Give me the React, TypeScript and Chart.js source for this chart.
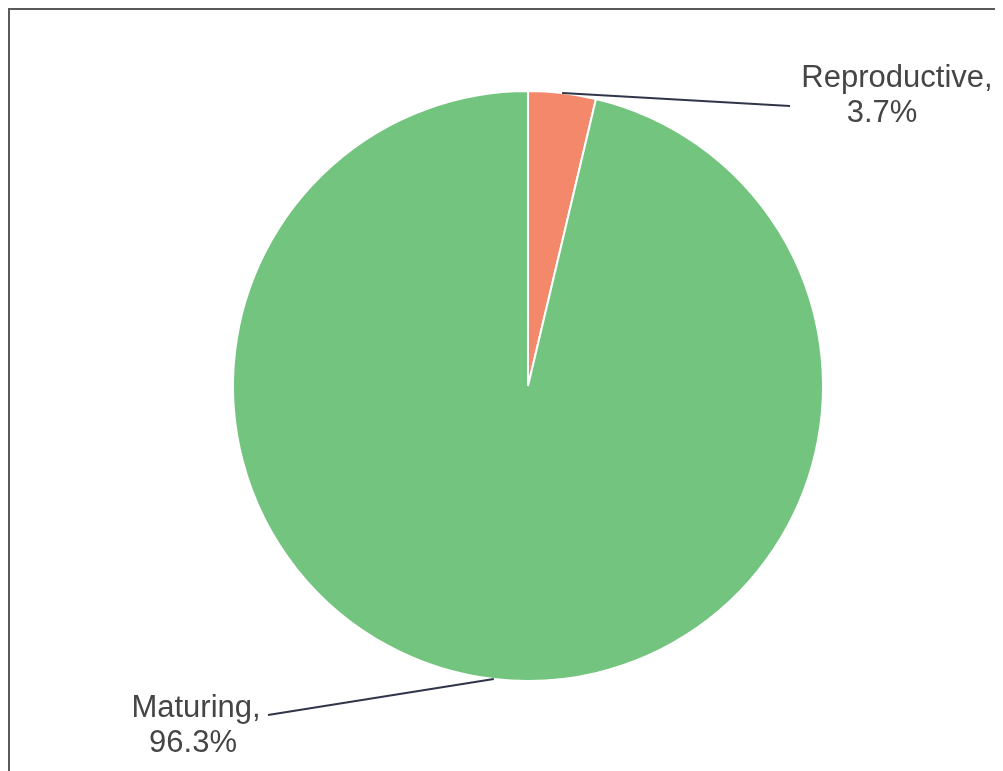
import React, { useEffect, useRef } from "react";
import { Chart, registerables } from "chart.js";

Chart.register(...registerables);

const categories = ["Reproductive", "Maturing"];
const values = [3.7, 96.3];
const valueLabels = ["3.7%", "96.3%"];
const colors = ["#F4886A", "#73C47F"];

// label anchor offsets relative to pie centre (style only)
const labelStyle = [
  { lineEnd: [262, -280], textX: [369, 354], baselines: [-299, -264] },
  { lineEnd: [-260, 329], textX: [-332, -335], baselines: [331, 366] },
];

const labelPlugin = {
  id: "pieLabels",
  afterDatasetsDraw(chart: any) {
    const ctx = chart.ctx;
    const meta = chart.getDatasetMeta(0);
    meta.data.forEach((arc: any, i: number) => {
      const { x, y, startAngle, endAngle, outerRadius } = arc.getProps(
        ["x", "y", "startAngle", "endAngle", "outerRadius"],
        true
      );
      const mid = (startAngle + endAngle) / 2;
      const sx = x + Math.cos(mid) * outerRadius;
      const sy = y + Math.sin(mid) * outerRadius;
      const st = labelStyle[i];
      ctx.save();
      ctx.strokeStyle = "#30364a";
      ctx.lineWidth = 2.2;
      ctx.beginPath();
      ctx.moveTo(sx, sy);
      ctx.lineTo(x + st.lineEnd[0], y + st.lineEnd[1]);
      ctx.stroke();
      ctx.fillStyle = "#454545";
      ctx.font = '31px "Liberation Sans", Arial, sans-serif';
      ctx.textAlign = "center";
      ctx.textBaseline = "alphabetic";
      ctx.fillText(categories[i] + ",", x + st.textX[0], y + st.baselines[0]);
      ctx.fillText(valueLabels[i], x + st.textX[1], y + st.baselines[1]);
      ctx.restore();
    });
  },
};

export default function App() {
  const ref = useRef<HTMLCanvasElement>(null);
  useEffect(() => {
    document.body.style.margin = "8px";
    document.body.style.overflow = "hidden";
    document.documentElement.style.overflow = "hidden";
    const chart = new Chart(ref.current!, {
      type: "pie",
      data: {
        labels: categories,
        datasets: [
          {
            data: values,
            backgroundColor: colors,
            borderColor: "#ffffff",
            borderWidth: 2,
          },
        ],
      },
      options: {
        animation: false,
        responsive: false,
        layout: { padding: { top: 80, bottom: 89, left: 168, right: 125 } },
        plugins: {
          legend: { display: false },
          tooltip: { enabled: false },
        },
      },
      plugins: [labelPlugin],
    });
    return () => chart.destroy();
  }, []);
  return (
    <div
      style={{
        width: 1020,
        height: 790,
        boxSizing: "border-box",
        borderTop: "2px solid #5a5a5a",
        borderLeft: "2px solid #5a5a5a",
        background: "#fff",
        position: "relative",
      }}
    >
      <canvas ref={ref} width={993} height={761} style={{ display: "block" }} />
    </div>
  );
}
